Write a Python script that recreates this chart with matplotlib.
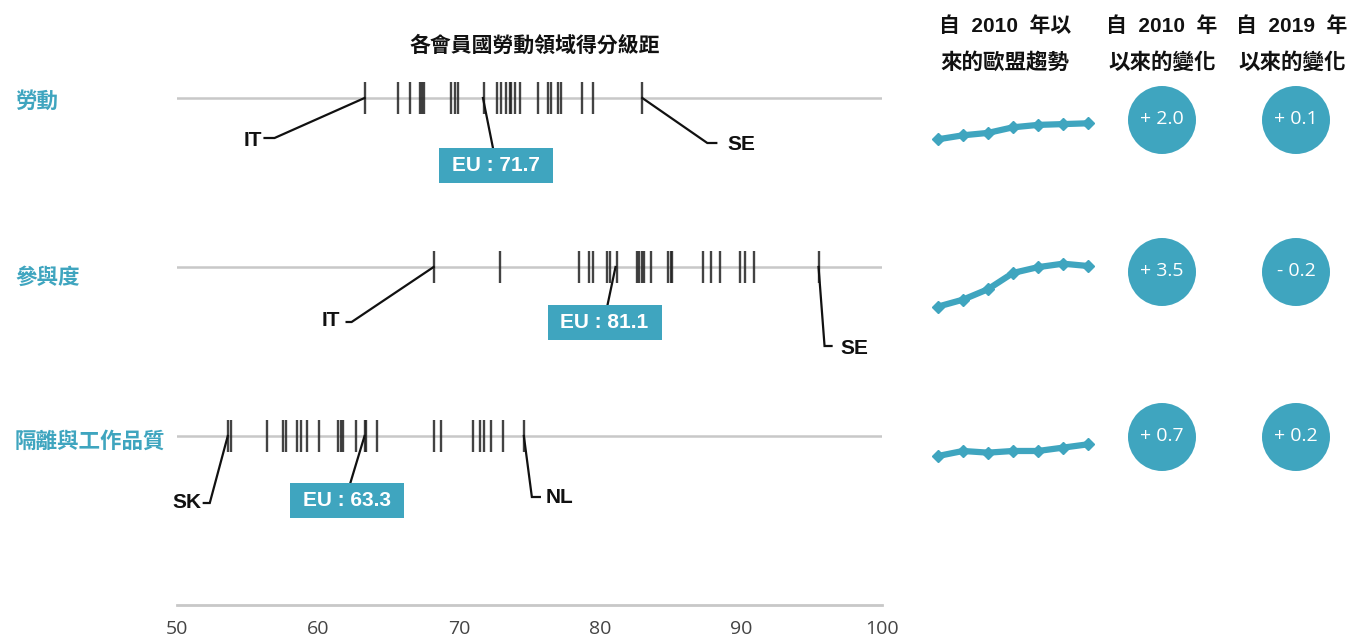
import matplotlib
matplotlib.use('Agg')
import matplotlib.pyplot as plt
from matplotlib.patches import Rectangle

# ---------------- data ----------------
domains = ['勞動', '參與度', '隔離與工作品質']
eu_scores = [71.7, 81.1, 63.3]

work_scores = [63.3, 65.7, 66.5, 67.2, 67.4, 67.5, 69.4, 69.7, 69.9, 71.8, 72.7, 73.0,
               73.3, 73.6, 73.7, 74.0, 74.3, 75.6, 76.3, 76.5, 77.0, 77.2, 78.7, 79.5, 83.0]
participation_scores = [68.2, 72.9, 78.5, 79.2, 79.5, 80.5, 80.7, 81.2, 82.6, 82.8, 83.0,
                        83.1, 83.6, 84.8, 85.0, 85.1, 87.3, 87.9, 88.5, 89.9, 90.3, 90.9, 95.5]
segregation_scores = [53.6, 53.8, 56.4, 57.5, 57.7, 58.5, 58.8, 59.2, 60.1, 61.4, 61.6, 61.8,
                      62.7, 63.3, 63.4, 64.2, 68.2, 68.7, 71.0, 71.5, 71.8, 72.3, 73.1, 74.6]

low_labels = ['IT', 'IT', 'SK']
low_scores = [63.3, 68.2, 53.6]
high_labels = ['SE', 'SE', 'NL']
high_scores = [83.0, 95.5, 74.6]

trend_years = ['2010', '2012', '2015', '2017', '2018', '2019', '2020']
trend_work = [69.7, 70.2, 70.5, 71.2, 71.5, 71.6, 71.7]
trend_participation = [77.6, 78.2, 79.1, 80.5, 81.0, 81.3, 81.1]
trend_segregation = [62.6, 62.9, 62.8, 62.9, 62.9, 63.1, 63.3]

change_since_2010 = [2.0, 3.5, 0.7]
change_since_2019 = [0.1, -0.2, 0.2]

x_ticks = [50, 60, 70, 80, 90, 100]

title = '各會員國勞動領域得分級距'
headers = [('自  2010  年以', '來的歐盟趨勢'), ('自  2010  年', '以來的變化'), ('自  2019  年', '以來的變化')]

# ---------------- style / layout ----------------
W, H = 1351, 641
TEAL = '#3fa5bf'
GRID = '#c8c8c8'
CJK = ['Noto Sans CJK TC', 'DejaVu Sans']
LAT = ['Liberation Sans', 'Noto Sans CJK TC', 'DejaVu Sans']

fig = plt.figure(figsize=(W / 100, H / 100), dpi=100)
fig.patch.set_facecolor('white')

SX = 705 / 50.0   # px per score unit
SY = 169.0        # px per row unit
ax = fig.add_axes([177 / W, 0, 705 / W, 1])
ax.set_xlim(50, 100)
ax.set_ylim((H - 98) / SY, -98 / SY)
ax.set_facecolor('none')
for s in ['top', 'left', 'right']:
    ax.spines[s].set_visible(False)
ax.spines['bottom'].set_position(('data', 3))
ax.spines['bottom'].set_color(GRID)
ax.spines['bottom'].set_linewidth(2)
ax.set_yticks([])
ax.set_xticks(x_ticks)
ax.set_xticklabels([str(t) for t in x_ticks])
ax.tick_params(axis='x', length=0, pad=11, labelsize=14, labelcolor='#444444')
for lab in ax.get_xticklabels():
    lab.set_fontfamily(['Open Sans', 'DejaVu Sans'])

all_scores = [work_scores, participation_scores, segregation_scores]
half = 16 / SY
for r, sc in enumerate(all_scores):
    ax.axhline(r, color=GRID, lw=1.8, zorder=1)
    ax.vlines(sc, r - half, r + half, color='#222222', lw=1.7, alpha=0.85, zorder=2)


def off(x, y, dx, dy):
    return x + dx / SX, y + dy / SY


def connector(val, row, bend, end):
    bx, by = off(val, row, *bend)
    ex, ey = off(val, row, *end)
    ax.plot([val, bx, ex], [row, by, ey], color='#111111', lw=1.6,
            solid_joinstyle='miter', clip_on=False, zorder=3)


def label(val, row, dx, dy, text, ha):
    x, y = off(val, row, dx, dy)
    ax.text(x, y, text, ha=ha, va='center', fontsize=15, fontweight='bold',
            family=LAT, color='#111111', zorder=4)


low_layout = [((-90, 40), (-100, 40), (-102, 42)),
              ((-82, 55), (-87, 55), (-93, 54)),
              ((-18, 67), (-24, 67), (-26, 67))]
high_layout = [((65, 45), (74, 45), (85, 46)),
               ((6, 79), (13, 79), (22, 82)),
               ((8, 61), (16, 61), (22, 62))]
eu_layout = [((10, 50), (13, 67.5)),
             ((-8, 38), (-11, 55.5)),
             ((-14.5, 48), (-17.5, 65))]

for r in range(3):
    b, e, t = low_layout[r]
    connector(low_scores[r], r, b, e)
    label(low_scores[r], r, t[0], t[1], low_labels[r], 'right')
    b, e, t = high_layout[r]
    connector(high_scores[r], r, b, e)
    label(high_scores[r], r, t[0], t[1], high_labels[r], 'left')
    lend, bc = eu_layout[r]
    ex, ey = off(eu_scores[r], r, *lend)
    ax.plot([eu_scores[r], ex], [r, ey], color='#111111', lw=1.6, clip_on=False, zorder=3)
    cx, cy = off(eu_scores[r], r, *bc)
    bw, bh = 114 / SX, 35 / SY
    ax.add_patch(Rectangle((cx - bw / 2, cy - bh / 2), bw, bh, facecolor=TEAL,
                           edgecolor='none', zorder=5, clip_on=False))
    ax.text(cx, cy, f'EU : {eu_scores[r]}', ha='center', va='center', color='white',
            fontsize=15, fontweight='bold', family=LAT, zorder=6)

# ---------------- overlay axes for texts and circles (pixel coords) ----------------
ov = fig.add_axes([0, 0, 1, 1], zorder=-1)
ov.set_xlim(0, W)
ov.set_ylim(H, 0)
ov.axis('off')

ov.text(535, 45, title, ha='center', va='center', fontsize=15, fontweight='bold',
        family=CJK, color='#111111')

row_label_y = [101, 277, 441]
for r, d in enumerate(domains):
    ov.text(15, row_label_y[r], d, ha='left', va='center', fontsize=15.5,
            fontweight='bold', family=CJK, color=TEAL)

header_x = [1005, 1162, 1292]
for (l1, l2), hx in zip(headers, header_x):
    ov.text(hx, 26, l1, ha='center', va='center', fontsize=15, fontweight='bold',
            family=LAT, color='#111111')
    ov.text(hx, 62, l2, ha='center', va='center', fontsize=15.5, fontweight='bold',
            family=CJK, color='#111111')

circle_y = [120, 272, 437]
circle_x = [1162, 1296]
s_area = (2 * 34 * 0.72) ** 2


def fmt(v):
    return f"{'+' if v >= 0 else '-'} {abs(v):.1f}"


for r in range(3):
    ov.scatter(circle_x, [circle_y[r]] * 2, s=s_area, color=TEAL, edgecolors='none')
    for cx, v in zip(circle_x, [change_since_2010[r], change_since_2019[r]]):
        ov.text(cx, circle_y[r] - 1, fmt(v), ha='center', va='center', color='white',
                fontsize=14, family=['Open Sans', 'DejaVu Sans'])

# ---------------- sparklines ----------------
trends = [trend_work, trend_participation, trend_segregation]
anchors = [(123.3, 8.0), (266.0, 11.6), (444.3, 16.7)]  # (px of last value, px per unit)
for r, tr in enumerate(trends):
    apx, scale = anchors[r]
    top, bot = apx - 40, apx + 50
    sa = fig.add_axes([938 / W, 1 - bot / H, 150 / W, (bot - top) / H])
    sa.set_xlim(0, len(trend_years) - 1)
    last = tr[-1]
    sa.set_ylim(last - (bot - apx) / scale, last + (apx - top) / scale)
    sa.plot(range(len(tr)), tr, color=TEAL, lw=4.5, marker='D', markersize=6.5,
            markeredgecolor=TEAL, clip_on=False, solid_capstyle='round')
    sa.axis('off')
    sa.patch.set_alpha(0)

fig.savefig('out.png', dpi=100, facecolor='white')
